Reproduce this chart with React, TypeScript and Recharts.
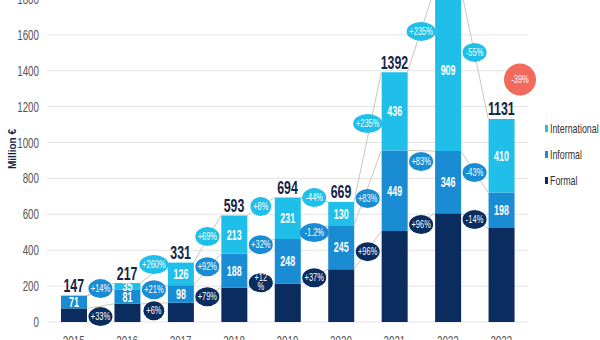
import React from 'react';
import {
  ComposedChart,
  Bar,
  XAxis,
  YAxis,
  CartesianGrid,
  LabelList,
  Legend,
  ReferenceLine,
  ReferenceDot,
} from 'recharts';

const years = ['2015', '2016', '2017', '2018', '2019', '2020', '2021', '2022', '2023'];
const formal = [76, 101, 107, 192, 215, 294, 507, 606, 523];
const informal = [71, 81, 98, 188, 248, 245, 449, 346, 198];
const international = [0, 35, 126, 213, 231, 130, 436, 909, 410];

// change badges, one per gap between two years
const formalChange = ['+33%', '+6%', '+79%', '+12\n%', '+37%', '+96%', '+96%', '-14%'];
const informalChange = ['+14%', '+21%', '+92%', '+32%', '-1.2%', '+83%', '+83%', '-43%'];
const internationalChange = ['', '+260%', '+69%', '+8%', '-44%', '+235%', '+235%', '-55%'];
const totalChange = '-39%';

// value (million €) the badges sit at
const formalBadgeAt = [30, 63, 141, 219, 247, 392, 543, 571];
const informalBadgeAt = [186, 180, 308, 431, 498, 688, 894, 833];
const internationalBadgeAt = [0, 320, 476, 643, 693, 1106, 1619, 1502];
const totalBadgeAt = 1351;

const yTicks = [0, 200, 400, 600, 800, 1000, 1200, 1400, 1600, 1800];

const C_INT = '#1fbfe9';
const C_INF = '#1a8cd4';
const C_FOR = '#0b2c5e';
const C_RED = '#f26a5c';
const NAVY_TEXT = '#142446';
const FONT = "'Liberation Sans', Arial, sans-serif";
const SX = 0.7; // squeeze to get the narrow look of the original

const W = 600;
const H = 399;
const TOP = -47;
const PLOT_LEFT = 47;
const PLOT_RIGHT = 72;
const BAR = 26;
const BAND = (W - PLOT_LEFT - PLOT_RIGHT) / years.length;
const HALF = BAR / 2 / BAND;

const rows = years.map((year, i) => ({
  idx: i,
  year,
  formal: formal[i],
  informal: informal[i],
  international: international[i],
  total: formal[i] + informal[i] + international[i],
}));

const formalTop = rows.map(r => r.formal);
const informalTop = rows.map(r => r.formal + r.informal);
const totalTop = rows.map(r => r.total);

const connectors = [formalTop, informalTop, totalTop].flatMap(tops =>
  tops.slice(0, -1).map((v, i) => [
    { x: i + HALF, y: v },
    { x: i + 1 - HALF, y: tops[i + 1] },
  ])
);

function NarrowText({ x, y, children, sx = SX, ...rest }: any) {
  return (
    <g transform={`translate(${x},${y}) scale(${sx},1)`}>
      <text x={0} y={0} fontFamily={FONT} {...rest}>
        {children}
      </text>
    </g>
  );
}

function Badge({ cx, cy, text, fill, rx, ry }: any) {
  const lines = text.split('\n');
  return (
    <g>
      <ellipse cx={cx} cy={cy} rx={rx} ry={ry} fill={fill} />
      {lines.map((l: string, k: number) => (
        <NarrowText
          key={k}
          x={cx}
          y={cy + (lines.length > 1 ? -1.5 + k * 9 : 3.5)}
          textAnchor="middle"
          fill="#fff"
          fontSize={10}
          sx={0.75}
        >
          {l}
        </NarrowText>
      ))}
    </g>
  );
}

const badgeRx = (t: string) => Math.max(10.5, t.replace('\n', '').length * 2.5 + 2);

const badges = [
  { labels: internationalChange, at: internationalBadgeAt, fill: C_INT },
  { labels: informalChange, at: informalBadgeAt, fill: C_INF },
  { labels: formalChange, at: formalBadgeAt, fill: C_FOR },
].flatMap(s =>
  s.labels.map((t, i) => ({ key: `${s.fill}-${i}`, x: i + 0.5, y: s.at[i], text: t, fill: s.fill }))
).filter(b => b.text);

function SegmentLabel(props: any) {
  const { x, y, width, height, value } = props;
  if (!value) return null;
  return (
    <NarrowText
      x={x + width / 2}
      y={y + height / 2 + 5}
      textAnchor="middle"
      fill="#fff"
      fontSize={14}
      fontWeight="bold"
      sx={0.64}
    >
      {value}
    </NarrowText>
  );
}

function XTick(props: any) {
  const { x, y, payload } = props;
  return (
    <NarrowText x={x} y={y + 9.8} textAnchor="middle" fill="#555" fontSize={14} sx={0.7}>
      {years[payload.value]}
    </NarrowText>
  );
}

function YTick(props: any) {
  const { x, y, payload } = props;
  return (
    <NarrowText x={x} y={y + 5} textAnchor="end" fill="#555" fontSize={14} sx={0.7}>
      {payload.value}
    </NarrowText>
  );
}

const legendItems = [
  { name: 'International', color: C_INT },
  { name: 'Informal', color: C_INF },
  { name: 'Formal', color: C_FOR },
];

function LegendBox() {
  return (
    <div>
      {legendItems.map(it => (
        <div key={it.name} style={{ height: 26, display: 'flex', alignItems: 'center' }}>
          <span style={{ width: 3, height: 7, background: it.color, marginRight: 2, flex: 'none' }} />
          <span
            style={{
              fontSize: 13,
              color: '#333',
              fontFamily: FONT,
              display: 'inline-block',
              transform: 'scaleX(0.68)',
              transformOrigin: 'left center',
              whiteSpace: 'nowrap',
            }}
          >
            {it.name}
          </span>
        </div>
      ))}
    </div>
  );
}

export default function App() {
  return (
    <div
      style={{
        position: 'fixed',
        left: 0,
        top: 0,
        width: W,
        height: 340,
        overflow: 'hidden',
        background: '#fff',
      }}
    >
      <div style={{ position: 'absolute', left: 0, top: TOP }}>
        <ComposedChart
          width={W}
          height={H}
          data={rows}
          margin={{ top: 10, right: PLOT_RIGHT, bottom: 0, left: 0 }}
        >
          <CartesianGrid vertical={false} stroke="#e4e4e4" />
          <XAxis
            type="number"
            dataKey="idx"
            domain={[-0.5, 8.5]}
            ticks={years.map((_, i) => i)}
            interval={0}
            axisLine={false}
            tickLine={false}
            tickMargin={8}
            tick={XTick}
          />
          <YAxis
            width={PLOT_LEFT}
            domain={[0, 2000]}
            ticks={yTicks}
            interval={0}
            axisLine={false}
            tickLine={false}
            tick={YTick}
            label={{
              content: () => (
                <text
                  transform="translate(15.5, 196) rotate(-90)"
                  textAnchor="middle"
                  fill={NAVY_TEXT}
                  fontSize={10}
                  fontWeight="bold"
                  fontFamily={FONT}
                >
                  Million €
                </text>
              ),
            }}
          />
          <Legend
            layout="vertical"
            align="center"
            verticalAlign="middle"
            wrapperStyle={{ left: 545, top: 162, width: 60 }}
            content={() => <LegendBox />}
          />
          <Bar dataKey="formal" stackId="a" fill={C_FOR} barSize={BAR} isAnimationActive={false} />
          <Bar dataKey="informal" stackId="a" fill={C_INF} barSize={BAR} isAnimationActive={false}>
            <LabelList dataKey="informal" content={SegmentLabel} />
          </Bar>
          <Bar dataKey="international" stackId="a" fill={C_INT} barSize={BAR} isAnimationActive={false}>
            <LabelList dataKey="international" content={SegmentLabel} />
          </Bar>
          {connectors.map((seg, k) => (
            <ReferenceLine key={`c${k}`} segment={seg} stroke="#cfc6bd" strokeWidth={1} ifOverflow="visible" />
          ))}
          {rows.map(r => (
            <ReferenceDot
              key={`t${r.idx}`}
              x={r.idx}
              y={r.total}
              r={1}
              ifOverflow="visible"
              shape={(p: any) => (
                <NarrowText
                  x={p.cx}
                  y={p.cy - 3.5}
                  textAnchor="middle"
                  fill={NAVY_TEXT}
                  fontSize={19}
                  fontWeight="bold"
                  sx={0.65}
                >
                  {r.total}
                </NarrowText>
              )}
            />
          ))}
          {badges.map(b => (
            <ReferenceDot
              key={b.key}
              x={b.x}
              y={b.y}
              r={10}
              ifOverflow="visible"
              shape={(p: any) => (
                <Badge cx={p.cx} cy={p.cy} text={b.text} fill={b.fill} rx={badgeRx(b.text)} ry={9.5} />
              )}
            />
          ))}
          <ReferenceDot
            x={8.35}
            y={totalBadgeAt}
            r={16}
            ifOverflow="visible"
            shape={(p: any) => <Badge cx={p.cx} cy={p.cy} text={totalChange} fill={C_RED} rx={16} ry={16} />}
          />
        </ComposedChart>
      </div>
    </div>
  );
}
